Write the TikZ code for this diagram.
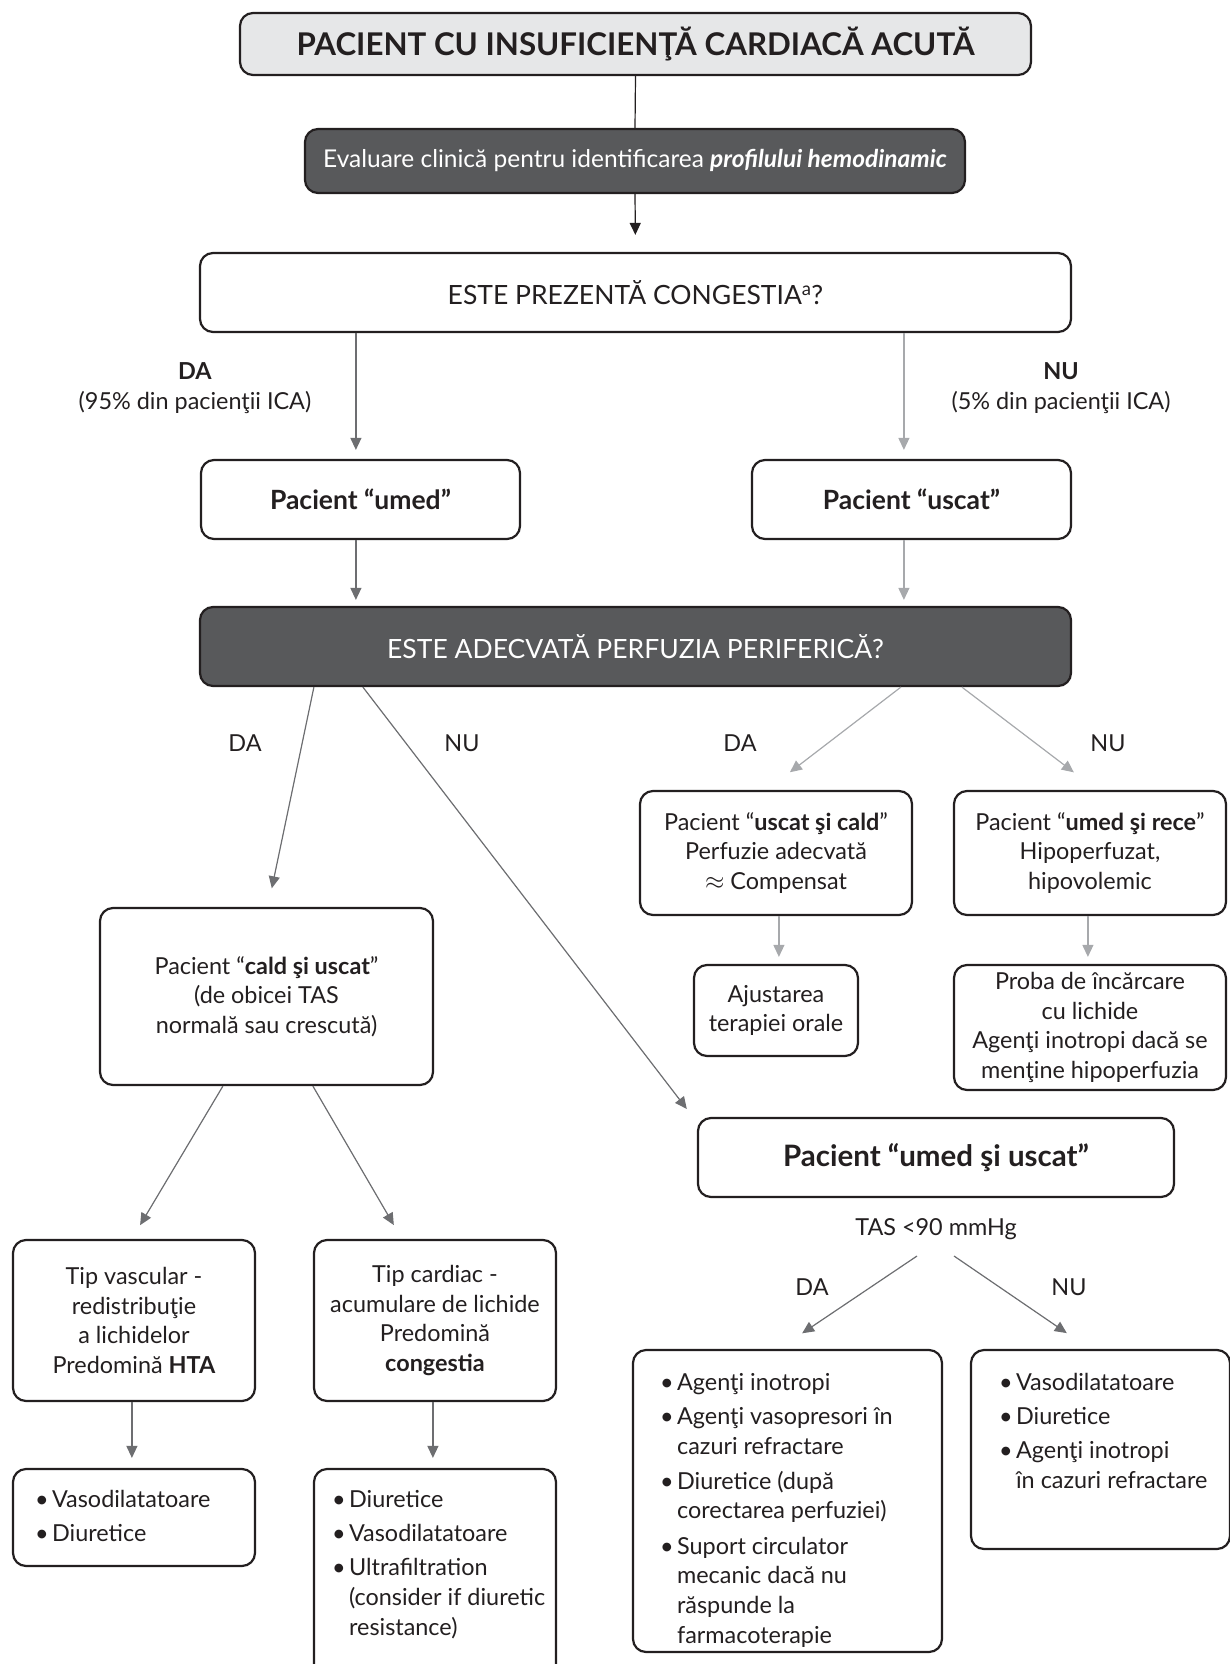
\documentclass[tikz,border=0pt]{standalone}
\usepackage{fontspec}
\setmainfont{Lato}
\usetikzlibrary{arrows.meta,calc}
\definecolor{darkbox}{HTML}{58595B}
\definecolor{lightbox}{HTML}{E6E7E8}
\definecolor{darr}{HTML}{6D6E71}
\definecolor{larr}{HTML}{A7A9AC}
\definecolor{ink}{HTML}{231F20}
\newcommand\fsBody{\fontsize{23.4}{29.7}\selectfont}
\newcommand\fsBig{\fontsize{26.5}{30}\selectfont}
\newcommand\fsTitle{\fontsize{31.3}{34}\selectfont}
\newcommand\bul{\makebox[17pt][l]{\textbullet}}
\newcommand\ind{\hspace*{17pt}}
\begin{document}
\begin{tikzpicture}[x=1pt,y=-1pt,
  box/.style={draw=ink, line width=2.2pt, rounded corners=13pt, fill=white,
    inner sep=0pt, align=center, text=ink, font=\fsBody},
  darkbx/.style={box, fill=darkbox, text=white},
  lbl/.style={align=center, text=ink, font=\fsBody, inner sep=0pt},
  lst/.style={align=left, text=ink, font=\fsBody, inner sep=0pt, anchor=north west},
  arr/.style={-{Triangle[length=12pt,width=11pt]}, line width=1.2pt},
  darrow/.style={arr, draw=darr, fill=darr},
  larrow/.style={arr, draw=larr, fill=larr}
]
\useasboundingbox (0,0) rectangle (1230,1664);

% top
\node[box, fill=lightbox, minimum width=791pt, minimum height=62pt, font=\fsTitle\bfseries] (title) at (635.5,44)
  {PACIENT CU INSUFICIENŢĂ CARDIACĂ ACUTĂ};
\node[darkbx, minimum width=660pt, minimum height=64pt, font=\fontsize{24.5}{30}\selectfont] (eval) at (635,161)
  {Evaluare clinică pentru identificarea \textbf{\textit{profilului hemodinamic}}};
\node[box, minimum width=871pt, minimum height=79pt, font=\fsBig] (cong) at (635.5,292.5)
  {ESTE PREZENTĂ CONGESTIA\textsuperscript{a}?};
\draw[line width=1.2pt, draw=ink] (title.south) -- (eval.north);
\draw[arr, draw=ink, fill=ink, shorten >=17pt] (eval.south) -- (cong.north);

\node[lbl] (dalbl) at (195,388) {\textbf{DA}\\(95\% din pacienţii ICA)};
\node[lbl] (nulbl) at (1061,388) {\textbf{NU}\\(5\% din pacienţii ICA)};

\node[box, minimum width=319pt, minimum height=79pt, font=\fsBig\bfseries] (umed) at (360.5,499.5) {Pacient “umed”};
\node[box, minimum width=319pt, minimum height=79pt, font=\fsBig\bfseries] (uscat) at (911.5,499.5) {Pacient “uscat”};
\node[darkbx, minimum width=871pt, minimum height=79pt, font=\fsBig] (perf) at (635.5,646.5)
  {ESTE ADECVATĂ PERFUZIA PERIFERICĂ?};

\draw[darrow, shorten >=9pt] ([xshift=157pt]cong.south west) coordinate (c1) -- (c1 |- umed.north);
\draw[larrow, shorten >=9pt] ([xshift=705pt]cong.south west) coordinate (c2) -- (c2 |- uscat.north);
\draw[darrow, shorten >=6pt] (c1 |- umed.south) -- (c1 |- perf.north);
\draw[larrow, shorten >=6pt] (c2 |- uscat.south) -- (c2 |- perf.north);

% perfusion branches
\node[lbl] (pda1) at (245,743) {DA};
\node[lbl] (pnu1) at (462,743) {NU};
\node[lbl] (pda2) at (740,743) {DA};
\node[lbl] (pnu2) at (1108,743) {NU};

\node[box, minimum width=272pt, minimum height=124pt] (usccald) at (776,853)
  {Pacient “\textbf{uscat şi cald}”\\Perfuzie adecvată\\$\approx$ Compensat};
\node[box, minimum width=272pt, minimum height=124pt] (umedrece) at (1090,853)
  {Pacient “\textbf{umed şi rece}”\\Hipoperfuzat,\\hipovolemic};
\node[box, minimum width=164pt, minimum height=91pt] (ajust) at (776,1010.5)
  {Ajustarea\\terapiei orale};
\node[box, minimum width=272pt, minimum height=125pt] (proba) at (1090,1027.5)
  {Proba de încărcare\\cu lichide\\Agenţi inotropi dacă se\\menţine hipoperfuzia};
\node[box, minimum width=333pt, minimum height=177pt] (cald) at (266.5,996.5)
  {Pacient “\textbf{cald şi uscat}”\\(de obicei TAS\\normală sau crescută)};
\node[box, minimum width=476pt, minimum height=79pt, font=\fontsize{29.5}{32}\selectfont\bfseries] (umedusc) at (936,1157.5)
  {Pacient “umed şi uscat”};

\draw[darrow, shorten >=19pt] ([xshift=115pt]perf.south west) -- ([xshift=169pt]cald.north west);
\draw[darrow, shorten >=10pt] ([xshift=164pt]perf.south west) -- ([xshift=-4pt]umedusc.north west);
\draw[larrow, shorten >=29pt] ([xshift=702pt]perf.south west) -- ([xshift=128pt]usccald.north west);
\draw[larrow, shorten >=29pt] ([xshift=763pt]perf.south west) -- ([xshift=144pt]umedrece.north west);
\draw[larrow, shorten >=7pt] ([xshift=140pt]usccald.south west) coordinate (c3) -- (c3 |- ajust.north);
\draw[larrow, shorten >=7pt] ([xshift=135pt]umedrece.south west) coordinate (c4) -- (c4 |- proba.north);

% left lower
\node[box, minimum width=242pt, minimum height=161pt] (vasc) at (134,1320.5)
  {Tip vascular -\\redistribuţie\\a lichidelor\\Predomină \textbf{HTA}};
\node[box, minimum width=242pt, minimum height=161pt] (card) at (435,1320.5)
  {Tip cardiac -\\acumulare de lichide\\Predomină\\\textbf{congestia}};
\draw[darrow, shorten >=16pt] ([xshift=124pt]cald.south west) -- ([xshift=120pt]vasc.north west);
\draw[darrow, shorten >=16pt] ([xshift=214pt]cald.south west) -- ([xshift=89pt]card.north west);

\node[box, minimum width=242pt, minimum height=97pt] (tv1) at (134,1517.5) {};
\node[lst] (tv1t) at ([shift={(23pt,-22pt)}]tv1.north west)
  {\bul Vasodilatatoare\\[4.5pt]\bul Diuretice};
\node[box, minimum width=242pt, minimum height=211pt] (tc1) at (435,1574.5) {};
\node[lst] (tc1t) at ([shift={(19pt,-22pt)}]tc1.north west)
  {\bul Diuretice\\[4.5pt]\bul Vasodilatatoare\\[4.5pt]\bul Ultrafiltration\\\ind(consider if diuretic\\\ind resistance)};
\draw[darrow, shorten >=10pt] ([xshift=120pt]vasc.south west) coordinate (c5) -- (c5 |- tv1.north);
\draw[darrow, shorten >=10pt] ([xshift=120pt]card.south west) coordinate (c6) -- (c6 |- tc1.north);

% right lower
\node[lbl, anchor=base] (tas) at (936,1235) {TAS <90 mmHg};
\node[lbl] (tda) at (812,1287) {DA};
\node[lbl] (tnu) at (1069,1287) {NU};
\node[box, minimum width=309pt, minimum height=302pt] (dab) at (787.5,1501) {};
\node[lst] (dabt) at ([shift={(28pt,-24pt)}]dab.north west)
  {\bul Agenţi inotropi\\[4.5pt]\bul Agenţi vasopresori în\\\ind cazuri refractare\\[5.5pt]\bul Diuretice (după\\\ind corectarea perfuziei)\\[5.5pt]\bul Suport circulator\\\ind mecanic dacă nu\\\ind răspunde la\\\ind farmacoterapie};
\node[box, minimum width=259pt, minimum height=199pt] (nub) at (1100.5,1449.5) {};
\node[lst] (nubt) at ([shift={(29pt,-24pt)}]nub.north west)
  {\bul Vasodilatatoare\\[4.5pt]\bul Diuretice\\[4.5pt]\bul Agenţi inotropi\\\ind în cazuri refractare};
\draw[darrow, shorten >=28pt] ([shift={(-19pt,-21pt)}]tas.base) -- ([xshift=147pt]dab.north west);
\draw[darrow, shorten >=28pt] ([shift={(18pt,-21pt)}]tas.base) -- ([xshift=120pt]nub.north west);
\end{tikzpicture}
\end{document}
